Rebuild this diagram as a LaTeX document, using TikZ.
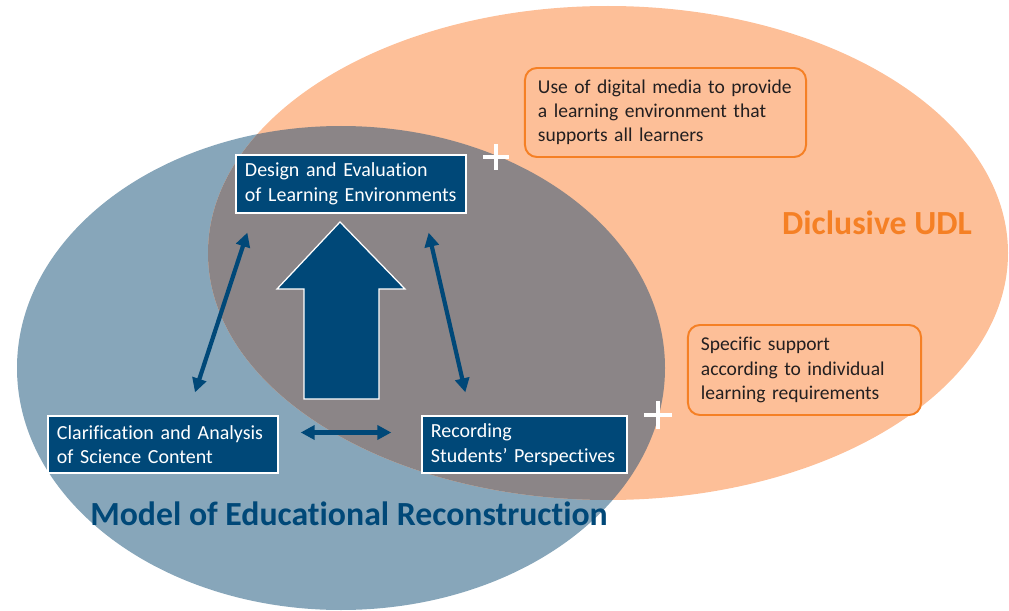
\documentclass[tikz,border=0pt]{standalone}
\usepackage{fontspec}
\setmainfont{Carlito}[Ligatures=NoCommon]
\usetikzlibrary{arrows.meta,calc}

\definecolor{mernavy}{RGB}{0,72,120}
\definecolor{merblue}{RGB}{135,166,186}
\definecolor{udlpeach}{RGB}{253,191,152}
\definecolor{udlorange}{RGB}{245,128,37}
\definecolor{overlapgray}{RGB}{139,133,135}
\definecolor{notegray}{RGB}{35,31,32}

\tikzset{
  stage/.style={draw=white, line width=0.9pt, fill=mernavy, text=white,
    align=left, inner xsep=0.225cm, font=\fontsize{14.2}{17.4}\selectfont},
  note/.style={draw=udlorange, line width=1.4pt, fill=udlpeach, text=notegray,
    rounded corners=0.3cm, align=left, inner xsep=0.325cm,
    font=\fontsize{13.9}{17.2}\selectfont},
  title/.style={font=\fontsize{24}{28}\selectfont\bfseries},
  twoway/.style={{Triangle[length=10pt,width=10pt]}-{Triangle[length=10pt,width=10pt]},
    draw=mernavy, line width=3pt},
  pluscross/.style={draw=white, line width=2.2pt},
}

\begin{document}
\begin{tikzpicture}[x=0.025cm, y=-0.025cm]
  \useasboundingbox (0,0) rectangle (1009,611);

  % the two models and where they overlap
  \fill[merblue] (341,368) ellipse [x radius=324, y radius=242];
  \fill[udlpeach] (608,253) ellipse [x radius=400, y radius=247];
  \begin{scope}
    \clip (341,368) ellipse [x radius=324, y radius=242];
    \fill[overlapgray] (608,253) ellipse [x radius=400, y radius=247];
  \end{scope}

  % the three steps
  \node[stage, text width=5.3cm, minimum height=1.45cm] (design) at (351,184)
    {Design and Evaluation\\of Learning Environments};
  \node[stage, text width=5.3cm, minimum height=1.425cm] (clar) at (163,444.5)
    {Clarification and Analysis\\of Science Content};
  \node[stage, text width=4.675cm, minimum height=1.425cm] (rec) at (524.5,444.5)
    {Recording\\Students’ Perspectives};

  % big arrow up to the design step
  \filldraw[fill=mernavy, draw=white, line width=0.9pt]
    (340,222) -- (405,289) -- (379,289) -- (379,399) -- (304,399)
    -- (304,289) -- (277,289) -- cycle;

  \draw[twoway] ($(design.south west)+(12,19)$) -- ($(clar.north)+(32,-23)$);
  \draw[twoway] ($(design.south east)+(-38,19)$) -- ($(rec.north west)+(44,-23)$);
  \draw[twoway] ($(clar.east)+(22,-12)$) -- ($(rec.west)+(-30,-12)$);

  % UDL additions
  \node[note, text width=6.375cm, minimum height=2.225cm] (media) at (665.5,112.5)
    {Use of digital media to provide\\a learning environment that\\supports all learners};
  \node[note, text width=5.175cm, minimum height=2.25cm] (support) at (804.5,370)
    {Specific support\\according to individual\\learning requirements};

  \draw[pluscross] (496,144) -- (496,170) (483,157) -- (509,157);
  \draw[pluscross] (658,401) -- (658,429) (644,415) -- (672,415);

  \node[title, text=mernavy] (mer) at (349,514) {Model of Educational Reconstruction};
  \node[title, text=udlorange] (udl) at (877,223) {Diclusive UDL};
\end{tikzpicture}
\end{document}
